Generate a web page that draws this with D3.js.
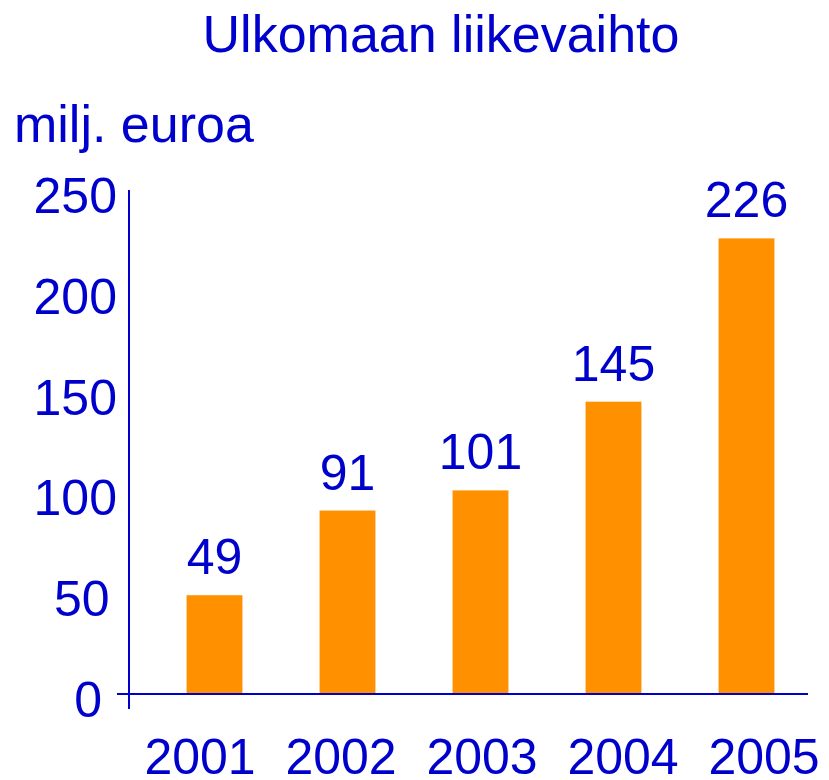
<!DOCTYPE html>
<html>
<head>
<meta charset="utf-8">
<script src="https://cdn.jsdelivr.net/npm/d3@7"></script>
<style>
  body { margin: 0; background: #fff; }
  text { font-family: "Liberation Sans", Arial, sans-serif; fill: #0000cc; }
</style>
</head>
<body>
<div id="chart"></div>
<script>
const years = ["2001", "2002", "2003", "2004", "2005"];
const values = [49, 91, 101, 145, 226];
const yTicks = [0, 50, 100, 150, 200, 250];

const width = 829, height = 780;
const blue = "#0000cc";
const orange = "#ff9100";

const svg = d3.select("#chart")
  .append("svg")
  .attr("width", width)
  .attr("height", height);

const y = d3.scaleLinear()
  .domain([0, 250])
  .range([694, 190]);

// bars sit on a band scale, year labels are spread slightly wider
const x = d3.scaleBand()
  .domain(years)
  .range([148, 813])
  .paddingInner(0.58)
  .paddingOuter(0.29);

const xLabel = d3.scalePoint()
  .domain(years)
  .range([200, 764]);

svg.append("text")
  .attr("x", 441)
  .attr("y", 52)
  .attr("text-anchor", "middle")
  .attr("font-size", 52)
  .text("Ulkomaan liikevaihto");

svg.append("text")
  .attr("x", 14)
  .attr("y", 142)
  .attr("font-size", 52)
  .text("milj. euroa");

// bars
svg.selectAll(".bar")
  .data(values)
  .join("rect")
  .attr("class", "bar")
  .attr("x", (d, i) => x(years[i]))
  .attr("y", d => y(d))
  .attr("width", x.bandwidth())
  .attr("height", d => y(0) - y(d))
  .attr("fill", orange);

// value labels
svg.selectAll(".val")
  .data(values)
  .join("text")
  .attr("class", "val")
  .attr("x", (d, i) => x(years[i]) + x.bandwidth() / 2)
  .attr("y", d => y(d) - 21)
  .attr("text-anchor", "middle")
  .attr("font-size", 50)
  .text(d => d);

// y axis line
svg.append("line")
  .attr("x1", 129).attr("x2", 129)
  .attr("y1", y(250)).attr("y2", 709)
  .attr("stroke", blue).attr("stroke-width", 2);

// x axis line
svg.append("line")
  .attr("x1", 117).attr("x2", 808)
  .attr("y1", y(0)).attr("y2", y(0))
  .attr("stroke", blue).attr("stroke-width", 2);

// y tick labels (shorter labels sit a bit further from the axis)
svg.selectAll(".ytick")
  .data(yTicks)
  .join("text")
  .attr("class", "ytick")
  .attr("x", d => 117 - (3 - String(d).length) * 7.5)
  .attr("y", d => y(d) + 23)
  .attr("text-anchor", "end")
  .attr("font-size", 50)
  .text(d => d);

// year labels
svg.selectAll(".year")
  .data(years)
  .join("text")
  .attr("class", "year")
  .attr("x", d => xLabel(d))
  .attr("y", 774)
  .attr("text-anchor", "middle")
  .attr("font-size", 50)
  .text(d => d);
</script>
</body>
</html>
